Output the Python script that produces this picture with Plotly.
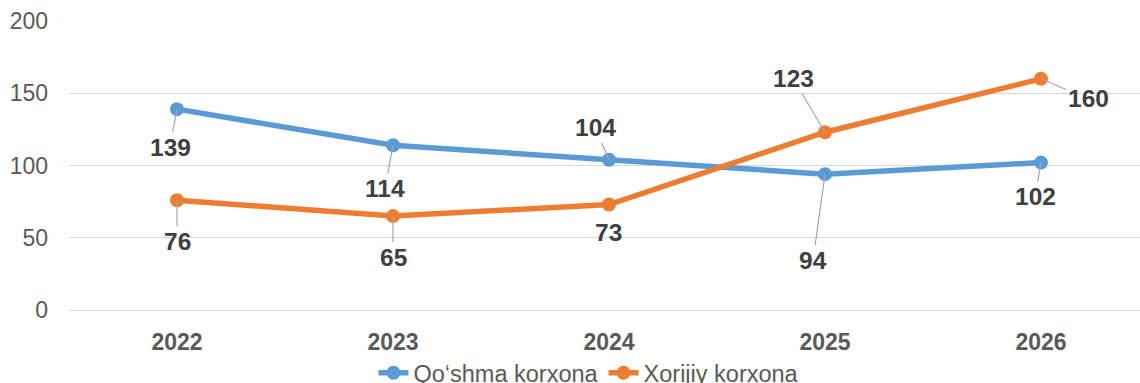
import plotly.graph_objects as go

years = ["2022", "2023", "2024", "2025", "2026"]
qoshma = [139, 114, 104, 94, 102]
xorijiy = [76, 65, 73, 123, 160]
y_ticks = [0, 50, 100, 150, 200]

BLUE = "#5B9BD5"
ORANGE = "#ED7D31"
FONT = "Liberation Sans, Arial, sans-serif"

# pixel offsets of each value label from its marker, and whether a leader line is drawn
blue_offsets = [(-7, 38, True), (-8, 43, True), (-14, -32, True), (-12, 86, True), (-6, 34, True)]
orange_offsets = [(0, 41, True), (0, 41, True), (-1, 28, False), (-32, -54, True), (47, 20, True)]

xs = list(range(len(years)))

fig = go.Figure()
fig.add_trace(go.Scatter(
    x=xs, y=qoshma, name="Qo‘shma korxona", mode="lines+markers",
    line=dict(color=BLUE, width=5.5), marker=dict(color=BLUE, size=14),
))
fig.add_trace(go.Scatter(
    x=xs, y=xorijiy, name="Xorijiy korxona", mode="lines+markers",
    line=dict(color=ORANGE, width=5.5), marker=dict(color=ORANGE, size=14),
))

annotations = []
for values, offsets in ((qoshma, blue_offsets), (xorijiy, orange_offsets)):
    for i, (v, (ax, ay, leader)) in enumerate(zip(values, offsets)):
        annotations.append(dict(
            x=xs[i], y=v, xref="x", yref="y", text=str(v),
            showarrow=True, ax=ax, ay=ay, axref="pixel", ayref="pixel",
            arrowhead=0, arrowwidth=1.2, standoff=0, startstandoff=0,
            arrowcolor="#A6A6A6" if leader else "rgba(0,0,0,0)",
            font=dict(family=FONT, size=24.5, color="#3F3F3F", weight="bold"),
        ))

fig.update_layout(
    width=1140, height=383,
    margin=dict(l=69, r=0, t=21, b=73, autoexpand=False),
    paper_bgcolor="white", plot_bgcolor="white",
    showlegend=True,
    legend=dict(
        orientation="h", x=0.4855, xanchor="center", y=-0.218, yanchor="middle",
        font=dict(family=FONT, size=23.5, color="#595959"),
        bgcolor="rgba(0,0,0,0)",
    ),
    annotations=annotations,
    xaxis=dict(
        tickmode="array", tickvals=xs, ticktext=years, automargin=False,
        range=[-0.5, 4.4583], showgrid=False, zeroline=False, showline=False,
        ticks="", ticklabelstandoff=16,
        tickfont=dict(family=FONT, size=23, color="#595959", weight="bold"),
    ),
    yaxis=dict(
        range=[0, 200], tickmode="array", tickvals=y_ticks, automargin=False,
        showgrid=True, gridcolor="#D9D9D9", gridwidth=1.3,
        zeroline=True, zerolinecolor="#D9D9D9", zerolinewidth=1.3,
        showline=False, ticks="", ticklabelstandoff=20,
        tickfont=dict(family=FONT, size=23, color="#595959"),
    ),
)

fig.write_html("out.html")
